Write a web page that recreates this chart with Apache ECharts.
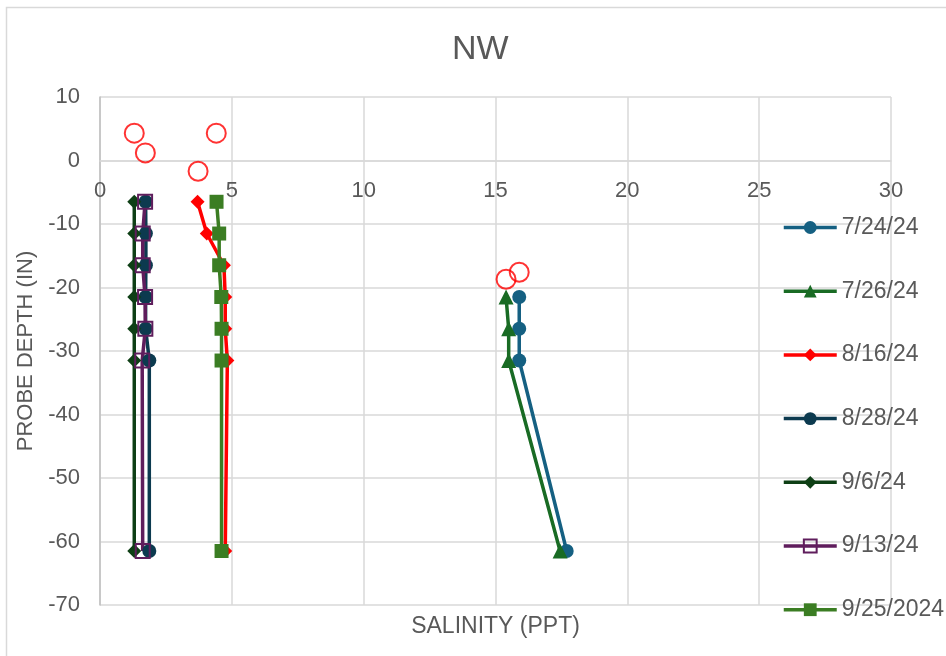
<!DOCTYPE html>
<html>
<head>
<meta charset="utf-8">
<script src="https://cdn.jsdelivr.net/npm/echarts@6/dist/echarts.min.js"></script>
<style>
  html, body { margin: 0; padding: 0; background: #fff; }
  #chart { width: 946px; height: 656px; }
</style>
</head>
<body>
<div id="chart"></div>
<script>
// Probe depths (inches) at which salinity was sampled
const depthAll = [-6.5, -11.5, -16.5, -21.5, -26.5, -31.5, -61.5];
const depthDeep = [-21.5, -26.5, -31.5, -61.5];

// Salinity (PPT) per sampling date
const sal_0724 = [15.9, 15.9, 15.9, 17.7];
const sal_0726 = [15.4, 15.5, 15.5, 17.45];
const sal_0816 = [3.7, 4.05, 4.7, 4.75, 4.75, 4.83, 4.75];
const sal_0828 = [1.73, 1.74, 1.74, 1.73, 1.73, 1.87, 1.87];
const sal_0906 = [1.3, 1.3, 1.3, 1.3, 1.3, 1.3, 1.3];
const sal_0913 = [1.71, 1.62, 1.62, 1.71, 1.72, 1.6, 1.62];
const sal_0925 = [4.42, 4.52, 4.52, 4.6, 4.61, 4.61, 4.61];

// Surface / shallow readings marked with open red circles
const circleSal = [1.3, 1.72, 3.72, 4.41, 15.4, 15.9];
const circleDepth = [4.3, 1.2, -1.7, 4.3, -18.7, -17.6];

const legendNames = ['7/24/24', '7/26/24', '8/16/24', '8/28/24', '9/6/24', '9/13/24', '9/25/2024'];

const xTicks = { min: 0, max: 30, interval: 5 };
const yTicks = { min: -70, max: 10, interval: 10 };

const TEXT = '#595959';
const GRID = '#d9d9d9';
const FONT = '"Liberation Sans", Arial, sans-serif';

// plot box
const PLOT = { left: 100, right: 55, top: 97, bottom: 51 };
const plotH = 656 - PLOT.top - PLOT.bottom;
// pixel row of depth 0, where the salinity labels sit
const zeroY = PLOT.top + plotH * (yTicks.max - 0) / (yTicks.max - yTicks.min);

function pairs(xs, ys) { return xs.map((v, i) => [v, ys[i]]); }

function lineSeries(name, xs, ys, color, symbol, size, extraItem) {
  return {
    name: name,
    type: 'line',
    data: pairs(xs, ys),
    symbol: symbol,
    symbolSize: size,
    showAllSymbol: true,
    lineStyle: { color: color, width: 3.5 },
    itemStyle: Object.assign({ color: color }, extraItem || {}),
    emphasis: { disabled: true },
    animation: false
  };
}

const series = [
  {
    name: 'Surface',
    type: 'scatter',
    data: pairs(circleSal, circleDepth),
    symbol: 'circle',
    symbolSize: 19,
    itemStyle: { color: 'rgba(0,0,0,0)', borderColor: '#ff0000', borderWidth: 2 },
    animation: false
  },
  lineSeries(legendNames[0], sal_0724, depthDeep, '#156082', 'circle', 14),
  lineSeries(legendNames[1], sal_0726, depthDeep, '#196b24', 'triangle', 15),
  lineSeries(legendNames[2], sal_0816, depthAll, '#ff0000', 'diamond', 14),
  lineSeries(legendNames[3], sal_0828, depthAll, '#0c3a4f', 'circle', 14),
  lineSeries(legendNames[4], sal_0906, depthAll, '#0e3f15', 'diamond', 14),
  lineSeries(legendNames[5], sal_0913, depthAll, '#5f1d5c', 'rect', 14,
    { color: 'rgba(0,0,0,0)', borderColor: '#5f1d5c', borderWidth: 2 }),
  lineSeries(legendNames[6], sal_0925, depthAll, '#3b7d23', 'rect', 14)
];

const chart = echarts.init(document.getElementById('chart'), null, { renderer: 'canvas' });
chart.setOption({
  backgroundColor: '#ffffff',
  animation: false,
  textStyle: { fontFamily: FONT },
  title: {
    text: 'NW',
    left: 452,
    top: 33,
    padding: 0,
    textStyle: { color: TEXT, fontSize: 34, fontWeight: 'normal', fontFamily: FONT }
  },
  grid: [
    { left: PLOT.left, right: PLOT.right, top: PLOT.top, bottom: PLOT.bottom, containLabel: false },
    // strip above depth 0: its bottom edge carries the salinity tick labels
    { left: PLOT.left, right: PLOT.right, top: PLOT.top, bottom: 656 - zeroY, containLabel: false }
  ],
  xAxis: [
    {
      type: 'value', gridIndex: 0,
      min: xTicks.min, max: xTicks.max, interval: xTicks.interval,
      axisLine: { show: false },
      axisTick: { show: false },
      axisLabel: { show: false },
      splitLine: { show: true, lineStyle: { color: GRID, width: 1.5 } }
    },
    {
      type: 'value', gridIndex: 1,
      min: xTicks.min, max: xTicks.max, interval: xTicks.interval,
      axisLine: { show: true, onZero: false, lineStyle: { color: GRID, width: 1.5 } },
      axisTick: { show: false },
      axisLabel: { color: TEXT, fontSize: 22, margin: 19, fontFamily: FONT },
      splitLine: { show: false }
    }
  ],
  yAxis: [
    {
      type: 'value', gridIndex: 0,
      min: yTicks.min, max: yTicks.max, interval: yTicks.interval,
      name: 'PROBE DEPTH (IN)',
      nameLocation: 'middle',
      nameGap: 55,
      nameRotate: 90,
      nameTextStyle: { color: TEXT, fontSize: 22, fontFamily: FONT },
      axisLine: { show: true, onZero: false, lineStyle: { color: '#bfbfbf', width: 1.5 } },
      axisTick: { show: false },
      axisLabel: { color: TEXT, fontSize: 22, margin: 20, fontFamily: FONT },
      splitLine: { show: true, lineStyle: { color: GRID, width: 1.5 } }
    },
    {
      type: 'value', gridIndex: 1, min: 0, max: 10, show: false
    }
  ],
  legend: {
    orient: 'vertical',
    left: 782,
    top: 216,
    padding: 0,
    itemWidth: 53,
    itemHeight: 16,
    itemGap: 40.7,
    data: legendNames,
    lineStyle: { width: 3.5 },
    textStyle: { color: TEXT, fontSize: 23, lineHeight: 22, fontFamily: FONT },
    selectedMode: false
  },
  graphic: [
    {
      type: 'rect',
      silent: true,
      shape: { x: 6.5, y: 7.5, width: 960, height: 660 },
      style: { fill: 'none', stroke: GRID, lineWidth: 1.5 }
    },
    {
      type: 'text',
      silent: true,
      x: 495.5,
      y: 627,
      style: {
        text: 'SALINITY (PPT)',
        fill: TEXT,
        font: '23px ' + FONT,
        textAlign: 'center',
        textVerticalAlign: 'middle'
      }
    }
  ],
  series: series
});
</script>
</body>
</html>
